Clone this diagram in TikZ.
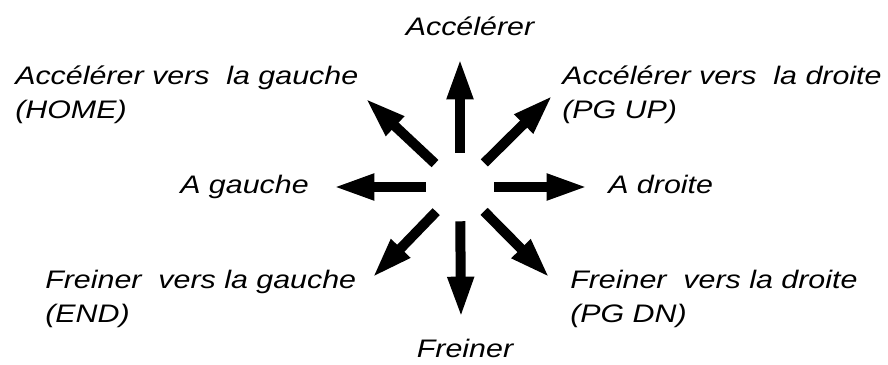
\documentclass[tikz,border=0pt]{standalone}
\usepackage{fontspec}
\newfontfamily\lblfont[FakeStretch=1.2]{Liberation Sans}
\usetikzlibrary{arrows.meta}

\begin{document}
\begin{tikzpicture}[x=0.75pt, y=0.75pt,
  lbl/.style={inner sep=0pt, align=left, font=\lblfont\itshape\fontsize{19}{25.5}\selectfont},
  bigarrow/.style={-{Triangle[length=31pt, width=18pt]}, line width=7.5pt}]
\useasboundingbox (0,0) rectangle (888,-364);
\draw (460,-187) node[circle, minimum size=51pt, inner sep=0pt] (c) {}; % hub, arrows start on its rim
\draw (470,-35) node[lbl, anchor=base] (acc) {Accélérer};
\draw (465,-357) node[lbl, anchor=base] (frein) {Freiner};
\draw (180,-193) node[lbl, anchor=base west] (gau) {A gauche};
\draw (608,-193) node[lbl, anchor=base west] (dro) {A droite};
\draw (15,-118) node[lbl, anchor=base west] (accg) {Accélérer vers\ \ la gauche\\(HOME)};
\draw (562,-118) node[lbl, anchor=base west] (accd) {Accélérer vers\ \ la droite\\(PG UP)};
\draw (45,-322) node[lbl, anchor=base west] (freg) {Freiner\ \ vers la gauche\\(END)};
\draw (570,-322) node[lbl, anchor=base west] (fred) {Freiner\ \ vers la droite\\(PG DN)};
\coordinate (tU) at (460,-58);
\coordinate (tD) at (461,-318);
\coordinate (tL) at (333,-187);
\coordinate (tR) at (588,-187);
\coordinate (tUL) at (365,-98);
\coordinate (tUR) at (553,-95);
\coordinate (tDL) at (372,-278);
\coordinate (tDR) at (550,-278);
\draw [bigarrow] (c) to (tU);
\draw [bigarrow] (c) to (tD);
\draw [bigarrow] (c) to (tL);
\draw [bigarrow] (c) to (tR);
\draw [bigarrow] (c) to (tUL);
\draw [bigarrow] (c) to (tUR);
\draw [bigarrow] (c) to (tDL);
\draw [bigarrow] (c) to (tDR);
\end{tikzpicture}
\end{document}
